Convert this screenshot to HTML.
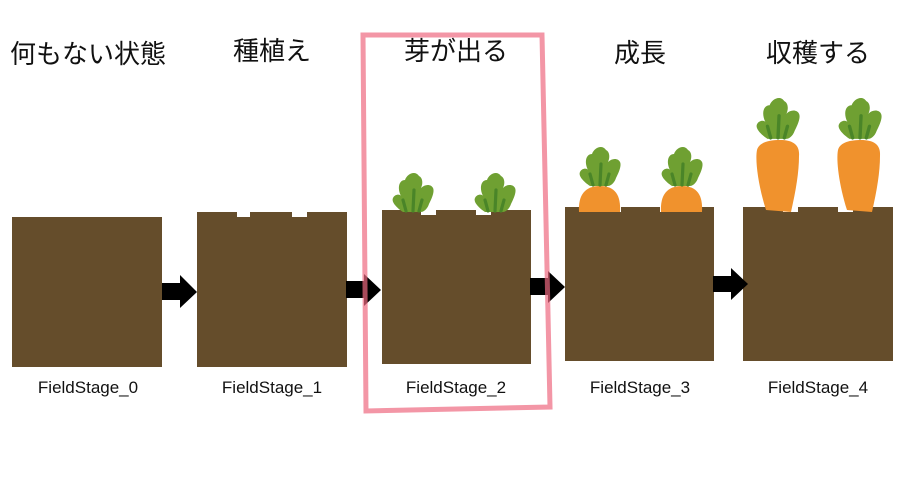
<!DOCTYPE html>
<html><head><meta charset="utf-8"><style>
html,body{margin:0;padding:0;background:#fff;}
svg{display:block}
text{font-family:"Liberation Sans","Noto Sans CJK JP",sans-serif;}
</style></head><body>
<svg width="900" height="500" viewBox="0 0 900 500">
<defs>
<g id="leaf">
<path d="M-10,18 C-16,14 -22,8 -20,4 C-18,0 -13,0 -12,2 C-16,-6 -14,-14 -8,-14 C-6,-20 2,-24 6,-18 C10,-16 10,-10 8,-6 C12,-10 18,-10 20,-6 C22,-2 18,6 16,10 C14,16 10,18 8,18 Z" fill="#6fa032"/>
<path d="M-7,17 L-10,6 M0,17 L1,-4 M6,17 L9,6" stroke="#4a8528" stroke-width="3.2" stroke-linecap="round" fill="none"/>
</g>
</defs>
<g font-size="26" text-anchor="middle" fill="#111">
<text x="88" y="63">何もない状態</text>
<text x="272" y="60">種植え</text>
<text x="456" y="60">芽が出る</text>
<text x="640" y="62">成長</text>
<text x="818" y="62">収穫する</text>
</g>
<g fill="#654d2b">
<rect x="12" y="217" width="150" height="150"/>
<path d="M197,212 H237 V217 H250 V212 H292 V217 H307 V212 H347 V367 H197 Z"/>
<path d="M382,210 H421 V215 H436 V210 H476 V215 H491 V210 H531 V364 H382 Z"/>
<path d="M565,207 H605 V212 H621 V207 H660 V212 H676 V207 H714 V361 H565 Z"/>
<path d="M743,207 H783 V212 H798 V207 H838 V212 H853 V207 H893 V361 H743 Z"/>
</g>
<g fill="#000">
<path d="M162,283 H180 V275 L197,292 L180,308 V300 H162 Z"/>
<path d="M346,281 H364 V274 L381,290 L364,306 V298 H346 Z"/>
<path d="M530,278 H548 V271 L565,287 L548,303 V295 H530 Z"/>
<path d="M713,276 H731 V268 L748,284 L731,300 V292 H713 Z"/>
</g>
<use href="#leaf" transform="translate(413,194)"/>
<use href="#leaf" transform="translate(495,194)"/>
<path d="M579,212 C578,195 585,186 600,186 C615,186 621,195 620,212 Z" fill="#f0922d"/>
<use href="#leaf" transform="translate(600,168)"/>
<path d="M661,212 C660,195 667,186 682,186 C697,186 703,195 702,212 Z" fill="#f0922d"/>
<use href="#leaf" transform="translate(682,168)"/>
<path d="M766,210 C758,185 755,160 757,150 C759,142 770,140 780,140 C792,140 800,144 799,156 C799,172 796,190 791,212 Z" fill="#f0922d"/>
<use href="#leaf" transform="translate(778,120) scale(1.05)"/>
<path d="M847,210 C839,185 836,160 838,150 C840,142 851,140 861,140 C873,140 881,144 880,156 C880,172 877,190 872,212 Z" fill="#f0922d"/>
<use href="#leaf" transform="translate(860,120) scale(1.05)"/>
<g font-size="17" text-anchor="middle" fill="#111">
<text x="88" y="393">FieldStage_0</text>
<text x="272" y="393">FieldStage_1</text>
<text x="456" y="393">FieldStage_2</text>
<text x="640" y="393">FieldStage_3</text>
<text x="818" y="393">FieldStage_4</text>
</g>
<path d="M363,35 L542,35 L550,407 L366,411 Z" fill="none" stroke="#ee6a80" stroke-opacity="0.7" stroke-width="5"/>
</svg>
</body></html>
